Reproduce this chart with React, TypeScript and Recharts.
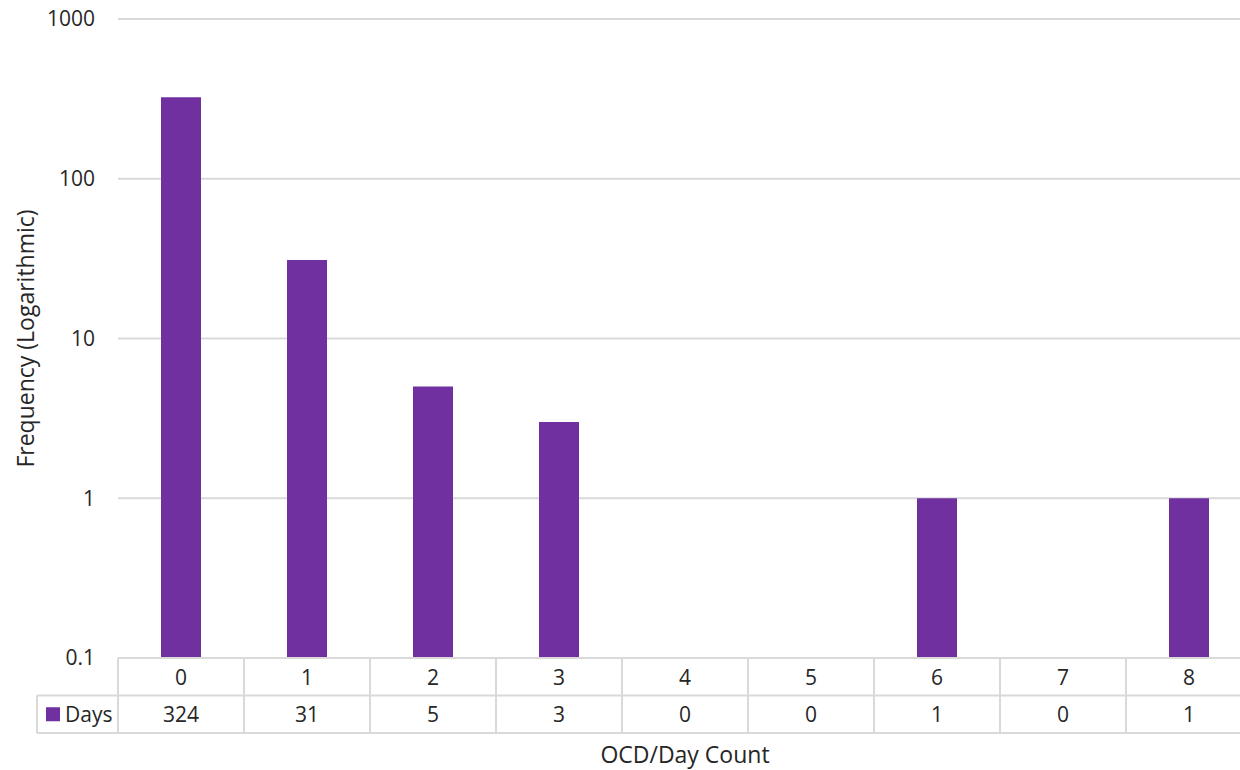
import { BarChart, Bar, XAxis, YAxis, CartesianGrid } from 'recharts';

const categories = ['0', '1', '2', '3', '4', '5', '6', '7', '8'];
const dayCounts = [324, 31, 5, 3, 0, 0, 1, 0, 1];
const yTicks = [0.1, 1, 10, 100, 1000];
const seriesName = 'Days';

const BAR_COLOR = '#7030A0';
const GRID = '#d9d9d9';
const TEXT = '#262626';
const FONT = '"Open Sans", sans-serif';

const CHART_W = 1252;
const CHART_H = 770;
const PLOT_LEFT = 118;
const BAND = (CHART_W - PLOT_LEFT) / categories.length;
const ROW = 37.5;
const LEGEND_W = 81;

// log scale can't show zero, so zero counts are left out of the bars but kept in the table
const data = categories.map((c, i) => ({
  category: c,
  count: dayCounts[i],
  plotted: dayCounts[i] > 0 ? dayCounts[i] : null,
}));

function TableTick(props: any) {
  const { x, y, payload, index } = props;
  const left = x - BAND / 2;
  const right = x + BAND / 2;
  const last = index === categories.length - 1;
  return (
    <g>
      <line x1={left} y1={y} x2={left} y2={y + 2 * ROW} stroke={GRID} strokeWidth={2} />
      {last && <line x1={right} y1={y} x2={right} y2={y + 2 * ROW} stroke={GRID} strokeWidth={2} />}
      <line x1={left} y1={y + ROW} x2={right} y2={y + ROW} stroke={GRID} strokeWidth={2} />
      <line x1={left} y1={y + 2 * ROW} x2={right} y2={y + 2 * ROW} stroke={GRID} strokeWidth={2} />
      <text x={x} y={y + ROW / 2} textAnchor="middle" dominantBaseline="central" fill={TEXT} fontSize={21} fontFamily={FONT}>
        {payload.value}
      </text>
      <text x={x} y={y + ROW * 1.5} textAnchor="middle" dominantBaseline="central" fill={TEXT} fontSize={21} fontFamily={FONT}>
        {dayCounts[index]}
      </text>
      {index === 0 && (
        <g>
          <line x1={left - LEGEND_W} y1={y + ROW} x2={left} y2={y + ROW} stroke={GRID} strokeWidth={2} />
          <line x1={left - LEGEND_W} y1={y + 2 * ROW} x2={left} y2={y + 2 * ROW} stroke={GRID} strokeWidth={2} />
          <line x1={left - LEGEND_W} y1={y + ROW} x2={left - LEGEND_W} y2={y + 2 * ROW} stroke={GRID} strokeWidth={2} />
          <rect x={left - LEGEND_W + 9} y={y + ROW * 1.5 - 7} width={14} height={14} fill={BAR_COLOR} />
          <text x={left - LEGEND_W + 28} y={y + ROW * 1.5} dominantBaseline="central" fill={TEXT} fontSize={21} fontFamily={FONT}>
            {seriesName}
          </text>
        </g>
      )}
    </g>
  );
}

export default function App() {
  return (
    <div style={{ position: 'absolute', left: 0, top: 0, width: 1240, height: 770, overflow: 'hidden', background: '#fff' }}>
      <BarChart
        width={CHART_W}
        height={CHART_H}
        data={data}
        margin={{ top: 19, right: 0, bottom: 0, left: 0 }}
        barSize={40}
        style={{ fontFamily: FONT }}
      >
        <CartesianGrid vertical={false} stroke={GRID} strokeWidth={2} />
        <XAxis
          dataKey="category"
          height={112}
          interval={0}
          tickSize={0}
          tickMargin={0}
          tickLine={false}
          axisLine={{ stroke: GRID, strokeWidth: 2 }}
          tick={<TableTick />}
          label={{ value: 'OCD/Day Count', position: 'insideBottom', offset: 7, fill: TEXT, fontSize: 23 }}
        />
        <YAxis
          scale="log"
          domain={[0.1, 1000]}
          ticks={yTicks}
          allowDataOverflow
          width={PLOT_LEFT}
          axisLine={false}
          tickLine={false}
          tickSize={0}
          tickMargin={23}
          tick={{ fill: TEXT, fontSize: 21 }}
          label={{
            value: 'Frequency (Logarithmic)',
            angle: -90,
            position: 'insideLeft',
            offset: 26,
            fill: TEXT,
            fontSize: 23,
            style: { textAnchor: 'middle' },
          }}
        />
        <Bar dataKey="plotted" name={seriesName} fill={BAR_COLOR} isAnimationActive={false} />
      </BarChart>
    </div>
  );
}
